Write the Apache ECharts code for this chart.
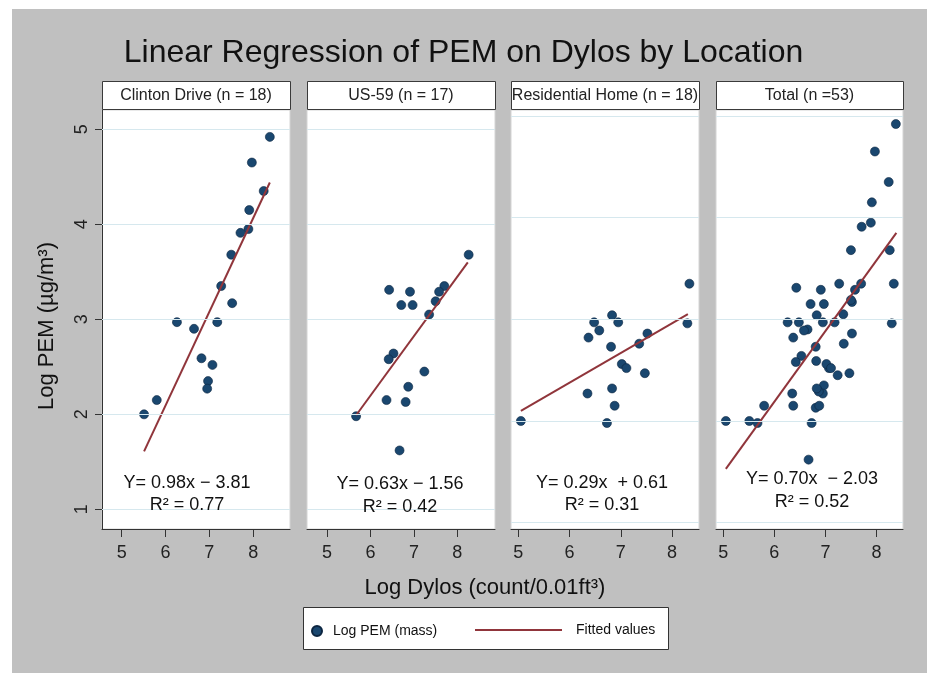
<!DOCTYPE html>
<html><head><meta charset="utf-8">
<script src="https://cdn.jsdelivr.net/npm/echarts@6/dist/echarts.min.js"></script>
<style>html,body{margin:0;padding:0;background:#fff}#c{width:927px;height:673px}</style>
</head><body><div id="c"></div>
<script>
// ---- data ----
const chartTitle = 'Linear Regression of PEM on Dylos by Location';
const panelTitles = ['Clinton Drive (n = 18)', 'US-59 (n = 17)', 'Residential Home (n = 18)', 'Total (n =53)'];
const xTicks = [5, 6, 7, 8];
const yTicks = [1, 2, 3, 4, 5];

const clintonX = [8.38, 7.97, 8.24, 7.91, 7.89, 7.71, 7.50, 7.27, 7.52, 6.26, 7.18, 6.65, 6.82, 7.07, 6.97, 6.95, 5.80, 5.51];
const clintonY = [4.92, 4.65, 4.35, 4.15, 3.95, 3.91, 3.68, 3.35, 3.17, 2.97, 2.97, 2.90, 2.59, 2.52, 2.35, 2.27, 2.15, 2.00];

const us59X = [8.26, 7.70, 7.58, 7.50, 7.35, 6.43, 6.91, 6.71, 6.97, 6.53, 6.42, 7.24, 6.87, 6.37, 6.81, 5.67, 6.67];
const us59Y = [3.68, 3.35, 3.29, 3.19, 3.05, 3.31, 3.29, 3.15, 3.15, 2.64, 2.58, 2.45, 2.29, 2.15, 2.13, 1.98, 1.62];

const resX = [8.34, 8.30, 6.83, 6.48, 6.95, 6.58, 6.37, 7.52, 7.36, 6.81, 7.02, 7.11, 7.47, 6.35, 6.83, 6.88, 6.73, 5.05];
const resY = [3.35, 2.96, 3.04, 2.97, 2.97, 2.89, 2.82, 2.86, 2.76, 2.73, 2.56, 2.52, 2.47, 2.27, 2.32, 2.15, 1.98, 2.00];

const totalX = clintonX.concat(us59X, resX);
const totalY = clintonY.concat(us59Y, resY);

const fitX = [[5.51, 8.38], [5.67, 8.24], [5.05, 8.31], [5.05, 8.39]];
const fitY = [[1.61, 4.44], [1.99, 3.60], [2.10, 3.05], [1.53, 3.85]];

const eqLabels = ['Y= 0.98x \u2212 3.81', 'Y= 0.63x \u2212 1.56', 'Y= 0.29x  + 0.61', 'Y= 0.70x  \u2212 2.03'];
const r2Labels = ['R\u00b2 = 0.77', 'R\u00b2 = 0.42', 'R\u00b2 = 0.31', 'R\u00b2 = 0.52'];

const xName = 'Log Dylos (count/0.01ft\u00b3)';
const yName = 'Log PEM (\u00b5g/m\u00b3)';
const scatterName = 'Log PEM (mass)';
const fitName = 'Fitted values';

// ---- layout ----
const FONT = "'Liberation Sans', Arial, sans-serif";
const grids = [
  {left: 102, top: 110, width: 188, height: 419},
  {left: 307, top: 110, width: 188, height: 419},
  {left: 511, top: 110, width: 188, height: 419},
  {left: 716, top: 110, width: 187, height: 419}
];
const xRanges = [[4.55, 8.84], [4.54, 8.866], [4.857, 8.527], [4.857, 8.52]];
const yRanges = [[0.793, 5.203], [0.793, 5.203], [0.938, 5.058], [0.938, 5.058]];
const eqPos = [[187, 483, 505], [400, 484, 507], [602, 483, 505], [812, 479, 502]];

const panelsX = [clintonX, us59X, resX, totalX];
const panelsY = [clintonY, us59Y, resY, totalY];

const NAVY = '#1a476f', MAROON = '#90353b';

const xAxes = [], yAxes = [], series = [], graphics = [];

graphics.push({type: 'rect', z: -100, shape: {x: 12, y: 9, width: 915, height: 664}, style: {fill: '#c0c0c0'}});

for (let i = 0; i < 4; i++) {
  xAxes.push({
    gridIndex: i, type: 'value', min: xRanges[i][0], max: xRanges[i][1],
    axisLine: {show: true, onZero: false, lineStyle: {color: '#333', width: 1}},
    axisTick: {show: true, length: 8, customValues: xTicks, lineStyle: {color: '#333'}},
    axisLabel: {customValues: xTicks, fontSize: 18, color: '#222', margin: 15, fontFamily: FONT},
    splitLine: {show: false}
  });
  yAxes.push({
    gridIndex: i, type: 'value', min: yRanges[i][0], max: yRanges[i][1],
    axisLine: {show: i === 0, onZero: false, lineStyle: {color: '#333', width: 1}},
    axisTick: {show: i === 0, length: 7, customValues: yTicks, lineStyle: {color: '#333'}},
    axisLabel: {show: i === 0, customValues: yTicks, rotate: 90, fontSize: 18, color: '#222', margin: 11, fontFamily: FONT},
    splitLine: {show: false}
  });
  // grid lines
  series.push({
    type: 'scatter', xAxisIndex: i, yAxisIndex: i, data: [], z: 1, silent: true,
    markLine: {silent: true, symbol: 'none', animation: false, label: {show: false},
      lineStyle: {color: '#d6e8ee', type: 'solid', width: 1},
      data: yTicks.map(v => ({yAxis: v}))}
  });
  series.push({
    name: scatterName, type: 'scatter', xAxisIndex: i, yAxisIndex: i, z: 3,
    symbol: 'circle', symbolSize: 9,
    itemStyle: {color: NAVY, borderColor: '#0c2540', borderWidth: 0.6, opacity: 1},
    data: panelsX[i].map((x, k) => [x, panelsY[i][k]])
  });
  series.push({
    name: fitName, type: 'line', xAxisIndex: i, yAxisIndex: i, z: 4,
    symbol: 'none', showSymbol: false,
    lineStyle: {color: MAROON, width: 2}, itemStyle: {color: MAROON},
    data: fitX[i].map((x, k) => [x, fitY[i][k]])
  });
  // header boxes
  const g = grids[i];
  graphics.push({type: 'rect', z: 10, shape: {x: g.left + 0.5, y: 81.5, width: g.width, height: 28},
    style: {fill: '#fff', stroke: '#3a3a3a', lineWidth: 1}});
  graphics.push({type: 'text', z: 11, x: g.left + g.width / 2, y: 96,
    style: {text: panelTitles[i], fill: '#222', font: '16px ' + FONT, textAlign: 'center', textVerticalAlign: 'middle'}});
  // equation text
  graphics.push({type: 'text', z: 11, x: eqPos[i][0], y: eqPos[i][1],
    style: {text: eqLabels[i], fill: '#111', font: '18px ' + FONT, textAlign: 'center', textVerticalAlign: 'middle'}});
  graphics.push({type: 'text', z: 11, x: eqPos[i][0], y: eqPos[i][2],
    style: {text: r2Labels[i], fill: '#111', font: '18px ' + FONT, textAlign: 'center', textVerticalAlign: 'middle'}});
}

// axis titles
graphics.push({type: 'text', z: 11, x: 47, y: 326, rotation: Math.PI / 2,
  style: {text: yName, fill: '#111', font: '22px ' + FONT, textAlign: 'center', textVerticalAlign: 'middle'}});
graphics.push({type: 'text', z: 11, x: 485, y: 588,
  style: {text: xName, fill: '#111', font: '22px ' + FONT, textAlign: 'center', textVerticalAlign: 'middle'}});
// legend box
graphics.push({type: 'rect', z: 5, shape: {x: 303.5, y: 607.5, width: 365, height: 42},
  style: {fill: '#fff', stroke: '#333', lineWidth: 1}});

const option = {
  backgroundColor: '#fff',
  animation: false,
  title: {text: chartTitle, left: 'center', top: 32,
    textStyle: {fontSize: 32, fontWeight: 'normal', color: '#111', fontFamily: FONT}},
  grid: grids.map(g => Object.assign({show: true, backgroundColor: '#fff', borderColor: '#d4d4d4', borderWidth: 1, containLabel: false}, g)),
  xAxis: xAxes,
  yAxis: yAxes,
  legend: [
    {data: [{name: scatterName, icon: 'circle'}], left: 311, top: 624, padding: 0, itemWidth: 10, itemHeight: 10, z: 20,
      textStyle: {fontSize: 14, color: '#111', fontFamily: FONT, padding: [0, 0, 0, 6]}},
    {data: [{name: fitName, icon: 'rect', itemStyle: {color: MAROON}}], left: 475, top: 623, padding: 0, itemWidth: 87, itemHeight: 2, z: 20,
      textStyle: {fontSize: 14, color: '#111', fontFamily: FONT, padding: [0, 0, 0, 9]}}
  ],
  graphic: graphics,
  series: series
};

const chart = echarts.init(document.getElementById('c'), null, {renderer: 'canvas'});
chart.setOption(option);
</script>
</body></html>
